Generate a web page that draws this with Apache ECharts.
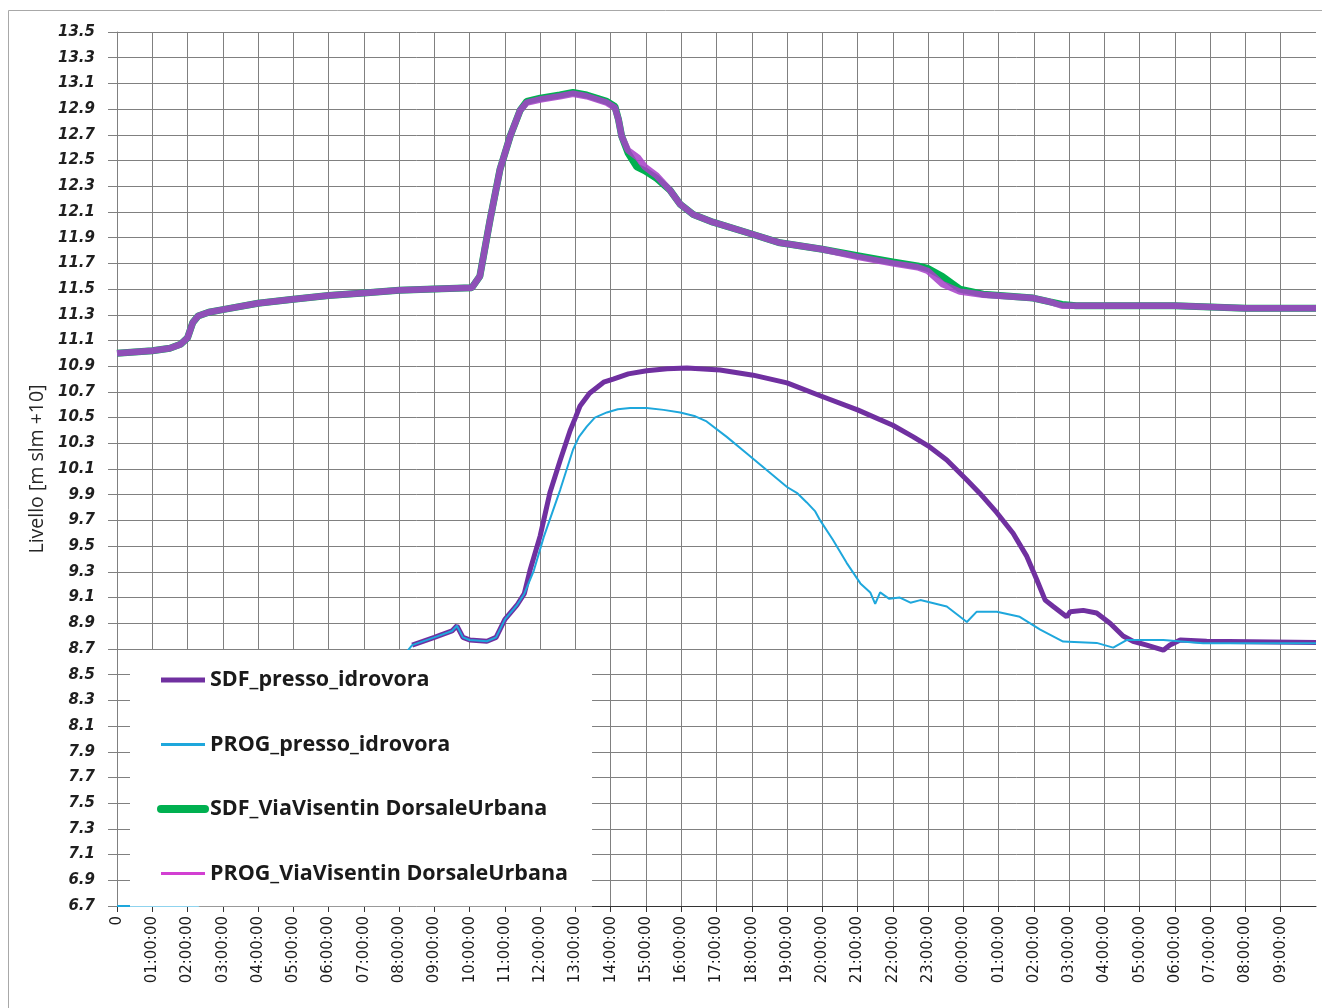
<!DOCTYPE html>
<html>
<head>
<meta charset="utf-8">
<title>Livello idrometrico</title>
<script src="https://cdn.jsdelivr.net/npm/echarts@6/dist/echarts.min.js"></script>
<style>
  html, body { margin: 0; padding: 0; background: #fff; }
  #chart { width: 1322px; height: 1008px; }
</style>
</head>
<body>
<div id="chart"></div>
<script>
// Hour labels along the time axis (two consecutive days)
const hourLabels = [
  '0', '01:00:00', '02:00:00', '03:00:00', '04:00:00', '05:00:00', '06:00:00',
  '07:00:00', '08:00:00', '09:00:00', '10:00:00', '11:00:00', '12:00:00',
  '13:00:00', '14:00:00', '15:00:00', '16:00:00', '17:00:00', '18:00:00',
  '19:00:00', '20:00:00', '21:00:00', '22:00:00', '23:00:00', '00:00:00',
  '01:00:00', '02:00:00', '03:00:00', '04:00:00', '05:00:00', '06:00:00',
  '07:00:00', '08:00:00', '09:00:00'
];

// Level tick values [m slm +10]
const levelTicks = [
  6.7, 6.9, 7.1, 7.3, 7.5, 7.7, 7.9, 8.1, 8.3, 8.5, 8.7, 8.9, 9.1, 9.3, 9.5,
  9.7, 9.9, 10.1, 10.3, 10.5, 10.7, 10.9, 11.1, 11.3, 11.5, 11.7, 11.9, 12.1,
  12.3, 12.5, 12.7, 12.9, 13.1, 13.3, 13.5
];

// [hours from start, level]
const sdfPressoIdrovora = [
  [8.37, 8.73], [9.0, 8.79], [9.5, 8.84], [9.64, 8.88], [9.81, 8.79],
  [10.0, 8.77], [10.49, 8.76], [10.75, 8.79], [11.0, 8.93], [11.34, 9.04],
  [11.55, 9.13], [11.71, 9.31], [12.0, 9.58], [12.28, 9.92], [12.57, 10.17],
  [12.85, 10.40], [13.0, 10.50], [13.13, 10.59], [13.4, 10.69], [13.8, 10.775],
  [14.07, 10.80], [14.5, 10.84], [15.02, 10.865], [15.6, 10.88], [16.16, 10.885],
  [17.1, 10.87], [18.04, 10.83], [19.0, 10.77], [19.94, 10.67], [21.0, 10.56],
  [22.0, 10.44], [22.58, 10.35], [23.0, 10.28], [23.53, 10.17], [24.1, 10.015],
  [24.47, 9.91], [24.95, 9.76], [25.41, 9.60], [25.8, 9.42], [26.08, 9.24],
  [26.32, 9.08], [26.55, 9.03], [26.93, 8.95], [27.03, 8.99], [27.4, 9.00],
  [27.78, 8.98], [28.16, 8.90], [28.53, 8.80], [28.81, 8.76], [29.2, 8.73],
  [29.67, 8.69], [29.86, 8.73], [30.15, 8.77], [30.9, 8.76], [34.0, 8.75]
];

const progPressoIdrovora = [
  [0, 6.70], [2.3, 6.70], [8.37, 8.73], [9.0, 8.79], [9.5, 8.84], [9.64, 8.88],
  [9.81, 8.79], [10.0, 8.77], [10.49, 8.76], [10.75, 8.79], [11.0, 8.93],
  [11.34, 9.04], [11.55, 9.13], [11.82, 9.31], [12.1, 9.57], [12.57, 9.94],
  [12.93, 10.25], [13.1, 10.35], [13.32, 10.43], [13.55, 10.50], [13.89, 10.54],
  [14.2, 10.565], [14.55, 10.575], [15.02, 10.575], [15.5, 10.56], [15.97, 10.54],
  [16.4, 10.51], [16.72, 10.47], [17.29, 10.35], [17.86, 10.22], [18.43, 10.09],
  [19.0, 9.96], [19.3, 9.91], [19.56, 9.84], [19.8, 9.77], [19.94, 9.70],
  [20.3, 9.55], [20.69, 9.37], [21.08, 9.21], [21.36, 9.14], [21.5, 9.05],
  [21.64, 9.14], [21.9, 9.09], [22.2, 9.10], [22.5, 9.06], [22.78, 9.08],
  [23.1, 9.06], [23.53, 9.03], [24.1, 8.91], [24.38, 8.99], [24.95, 8.99],
  [25.6, 8.95], [26.18, 8.85], [26.83, 8.757], [27.78, 8.747], [28.25, 8.71],
  [28.64, 8.77], [29.67, 8.77], [30.8, 8.745], [34.0, 8.745]
];

const sdfViaVisentin = [
  [0, 11.00], [0.5, 11.01], [1.0, 11.02], [1.5, 11.04], [1.8, 11.07],
  [2.0, 11.12], [2.15, 11.24], [2.3, 11.29], [2.6, 11.32], [3.0, 11.34],
  [4.0, 11.39], [5.0, 11.42], [6.0, 11.45], [7.0, 11.47], [8.0, 11.49],
  [9.0, 11.50], [10.06, 11.51], [10.29, 11.60], [10.58, 12.04], [10.86, 12.43],
  [11.15, 12.69], [11.43, 12.89], [11.62, 12.96], [12.0, 12.985], [12.56, 13.01],
  [12.93, 13.03], [13.32, 13.01], [13.89, 12.96], [14.12, 12.92], [14.22, 12.82],
  [14.31, 12.69], [14.49, 12.56], [14.74, 12.45], [14.97, 12.42], [15.31, 12.36],
  [15.68, 12.27], [15.97, 12.16], [16.34, 12.08], [16.9, 12.02], [17.86, 11.94],
  [18.8, 11.86], [20.0, 11.81], [21.0, 11.76], [22.0, 11.71], [22.7, 11.68],
  [23.0, 11.66], [23.4, 11.60], [23.9, 11.50], [24.56, 11.46], [25.98, 11.43],
  [26.46, 11.40], [26.8, 11.38], [27.2, 11.37], [28.0, 11.37], [30.0, 11.37],
  [31.0, 11.36], [32.0, 11.35], [34.0, 11.35]
];

const progViaVisentin = [
  [0, 11.00], [0.5, 11.01], [1.0, 11.02], [1.5, 11.04], [1.8, 11.07],
  [2.0, 11.12], [2.15, 11.24], [2.3, 11.29], [2.6, 11.32], [3.0, 11.34],
  [4.0, 11.39], [5.0, 11.42], [6.0, 11.45], [7.0, 11.47], [8.0, 11.49],
  [9.0, 11.50], [10.06, 11.51], [10.29, 11.60], [10.58, 12.04], [10.86, 12.43],
  [11.15, 12.69], [11.43, 12.89], [11.62, 12.95], [12.0, 12.975], [12.56, 13.0],
  [12.93, 13.02], [13.32, 13.0], [13.89, 12.95], [14.12, 12.91], [14.22, 12.82],
  [14.31, 12.69], [14.49, 12.58], [14.78, 12.52], [14.97, 12.45], [15.31, 12.38],
  [15.68, 12.27], [15.97, 12.16], [16.34, 12.08], [16.9, 12.02], [17.86, 11.94],
  [18.8, 11.86], [20.0, 11.81], [21.0, 11.75], [22.0, 11.70], [22.7, 11.67],
  [23.0, 11.64], [23.4, 11.54], [23.9, 11.48], [24.56, 11.455], [25.98, 11.43],
  [26.46, 11.40], [26.8, 11.37], [27.2, 11.37], [28.0, 11.37], [30.0, 11.37],
  [31.0, 11.36], [32.0, 11.35], [34.0, 11.35]
];

const hourTicks = hourLabels.map((_, i) => i);

const chart = echarts.init(document.getElementById('chart'), null, { renderer: 'canvas' });

const gridColor = '#808080';

chart.setOption({
  animation: false,
  backgroundColor: '#ffffff',
  graphic: [{
    type: 'rect',
    silent: true,
    z: -10,
    shape: { x: 8.5, y: 10.5, width: 1340, height: 1020 },
    style: { fill: 'none', stroke: '#a8a8a8', lineWidth: 1 }
  }],
  grid: {
    left: 117, right: 6, top: 32, bottom: 102,
    containLabel: false,
    outerBoundsMode: 'none'
  },
  legend: {
    orient: 'vertical',
    left: 130, top: 650,
    padding: [19, 24, 22, 27],
    backgroundColor: '#ffffff',
    itemWidth: 44, itemHeight: 14, itemGap: 42.5,
    itemStyle: { opacity: 0 },
    textStyle: { fontFamily: 'Open Sans', fontWeight: 'bold', fontSize: 21.5, color: '#1a1a1a' },
    data: [
      { name: 'SDF_presso_idrovora', lineStyle: { width: 5 } },
      { name: 'PROG_presso_idrovora', lineStyle: { width: 3 } },
      { name: 'SDF_ViaVisentin DorsaleUrbana', lineStyle: { width: 8, cap: 'round' } },
      { name: 'PROG_ViaVisentin DorsaleUrbana', lineStyle: { width: 3, opacity: 1, color: '#d23fd2' } }
    ]
  },
  xAxis: {
    type: 'value',
    min: 0, max: 34,
    axisLine: { show: true, lineStyle: { color: '#333333', width: 1 } },
    axisTick: { show: true, length: 6, customValues: hourTicks, lineStyle: { color: '#333333' } },
    axisLabel: {
      customValues: hourTicks,
      rotate: 90,
      margin: 10,
      fontFamily: 'DejaVu Sans',
      fontSize: 15,
      color: '#1a1a1a',
      formatter: (v) => hourLabels[Math.round(v)] || ''
    },
    splitLine: { show: true, lineStyle: { color: gridColor, width: 1 } }
  },
  yAxis: {
    type: 'value',
    min: 6.7, max: 13.5,
    name: 'Livello [m slm +10]',
    nameLocation: 'middle',
    nameRotate: 90,
    nameGap: 67,
    nameTextStyle: { fontFamily: 'Open Sans', fontSize: 19.5, color: '#262626' },
    axisLine: { show: true, lineStyle: { color: gridColor, width: 1 } },
    axisTick: { show: true, length: 9, customValues: levelTicks, lineStyle: { color: gridColor } },
    axisLabel: {
      customValues: levelTicks,
      margin: 22,
      fontFamily: 'DejaVu Sans',
      fontWeight: 'bold',
      fontStyle: 'italic',
      fontSize: 15,
      color: '#1f1f1f',
      formatter: (v) => v.toFixed(1)
    },
    splitLine: { show: true, lineStyle: { color: gridColor, width: 1 } }
  },
  series: [
    {
      name: 'SDF_presso_idrovora',
      type: 'line',
      symbol: 'none',
      data: sdfPressoIdrovora,
      color: '#7030a0',
      lineStyle: { width: 5, color: '#7030a0' }
    },
    {
      name: 'PROG_presso_idrovora',
      type: 'line',
      symbol: 'none',
      data: progPressoIdrovora,
      color: '#1ea7dc',
      lineStyle: { width: 2, color: '#1ea7dc' }
    },
    {
      name: 'SDF_ViaVisentin DorsaleUrbana',
      type: 'line',
      symbol: 'none',
      data: sdfViaVisentin,
      color: '#00b050',
      lineStyle: { width: 7, color: '#00b050' }
    },
    {
      name: 'PROG_ViaVisentin DorsaleUrbana',
      type: 'line',
      symbol: 'none',
      data: progViaVisentin,
      color: '#d23fd2',
      lineStyle: { width: 6.5, color: '#a640c8', opacity: 0.86 }
    }
  ]
});
</script>
</body>
</html>
